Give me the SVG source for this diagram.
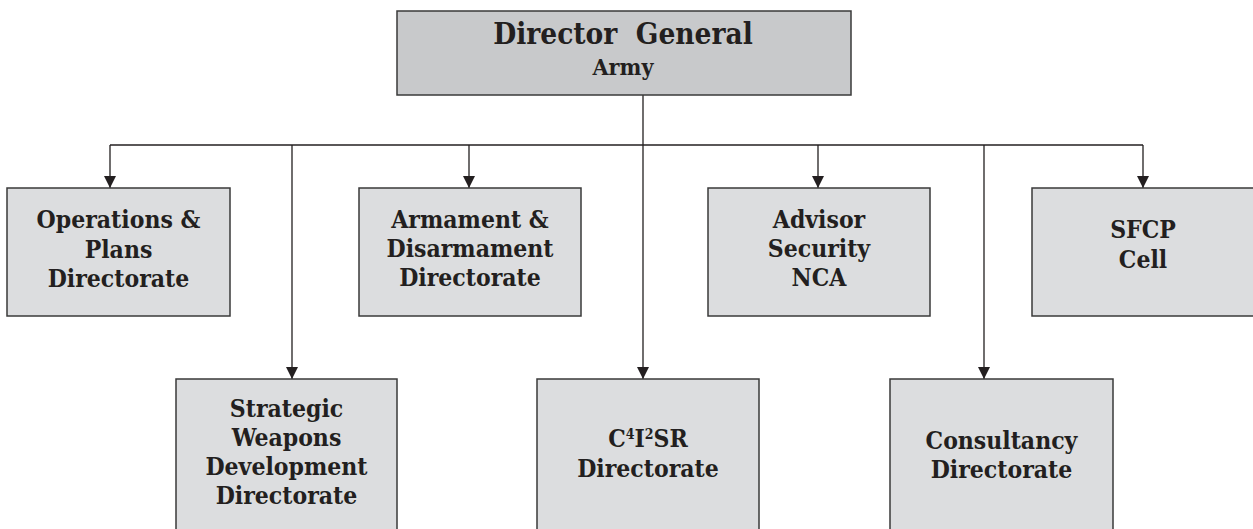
<svg xmlns="http://www.w3.org/2000/svg" width="1253" height="529" viewBox="0 0 1253 529">
<defs>
<style>
.top{fill:#c8c9cb;stroke:#3a3a3a;stroke-width:1.5}
.box{fill:#dcdddf;stroke:#3a3a3a;stroke-width:1.5}
.ln{fill:none;stroke:#231f20;stroke-width:1.3}
text{font-family:"DejaVu Serif Condensed","DejaVu Serif","Liberation Serif",serif;font-weight:bold;fill:#231f20;text-anchor:middle}
.t{font-size:24.5px}
.h1{font-size:29.5px}
.h2{font-size:23px}
</style>
<marker id="ah" viewBox="0 0 12 12" refX="12" refY="6" markerWidth="13" markerHeight="12" markerUnits="userSpaceOnUse" orient="auto">
<path d="M0,0 L12,6 L0,12 z" fill="#231f20"/>
</marker>
</defs>
<rect width="1253" height="529" fill="#ffffff"/>
<g id="connectors">
<line class="ln" x1="110" y1="145" x2="1143" y2="145"/>
<line class="ln" x1="643" y1="95" x2="643" y2="379" marker-end="url(#ah)"/>
<line class="ln" x1="110" y1="145" x2="110" y2="188" marker-end="url(#ah)"/>
<line class="ln" x1="469" y1="145" x2="469" y2="188" marker-end="url(#ah)"/>
<line class="ln" x1="818" y1="145" x2="818" y2="188" marker-end="url(#ah)"/>
<line class="ln" x1="1143" y1="145" x2="1143" y2="188" marker-end="url(#ah)"/>
<line class="ln" x1="292" y1="145" x2="292" y2="379" marker-end="url(#ah)"/>
<line class="ln" x1="984" y1="145" x2="984" y2="379" marker-end="url(#ah)"/>
</g>
<g id="n-dg">
<rect class="top" x="397" y="11" width="454" height="84"/>
<text class="h1" x="623" y="44" xml:space="preserve">Director  General</text>
<text class="h2" x="623" y="75">Army</text>
</g>
<g id="n-ops">
<rect class="box" x="7" y="188" width="223" height="128"/>
<text class="t" x="118.5" y="228">Operations &amp;</text>
<text class="t" x="118.5" y="258">Plans</text>
<text class="t" x="118.5" y="287">Directorate</text>
</g>
<g id="n-arm">
<rect class="box" x="359" y="188" width="222" height="128"/>
<text class="t" x="470" y="228">Armament &amp;</text>
<text class="t" x="470" y="257">Disarmament</text>
<text class="t" x="470" y="286">Directorate</text>
</g>
<g id="n-adv">
<rect class="box" x="708" y="188" width="222" height="128"/>
<text class="t" x="819" y="228">Advisor</text>
<text class="t" x="819" y="257">Security</text>
<text class="t" x="819" y="286">NCA</text>
</g>
<g id="n-sfcp">
<rect class="box" x="1032" y="188" width="222" height="128"/>
<text class="t" x="1143" y="238">SFCP</text>
<text class="t" x="1143" y="268">Cell</text>
</g>
<g id="n-swd">
<rect class="box" x="176" y="379" width="221" height="160"/>
<text class="t" x="286.5" y="417">Strategic</text>
<text class="t" x="286.5" y="446">Weapons</text>
<text class="t" x="286.5" y="475">Development</text>
<text class="t" x="286.5" y="504">Directorate</text>
</g>
<g id="n-c4">
<rect class="box" x="537" y="379" width="222" height="160"/>
<text class="t" x="648" y="447">C<tspan font-size="14" baseline-shift="55%">4</tspan>I<tspan font-size="14" baseline-shift="55%">2</tspan>SR</text>
<text class="t" x="648" y="477">Directorate</text>
</g>
<g id="n-cons">
<rect class="box" x="890" y="379" width="223" height="160"/>
<text class="t" x="1001.5" y="449">Consultancy</text>
<text class="t" x="1001.5" y="478">Directorate</text>
</g>
</svg>
